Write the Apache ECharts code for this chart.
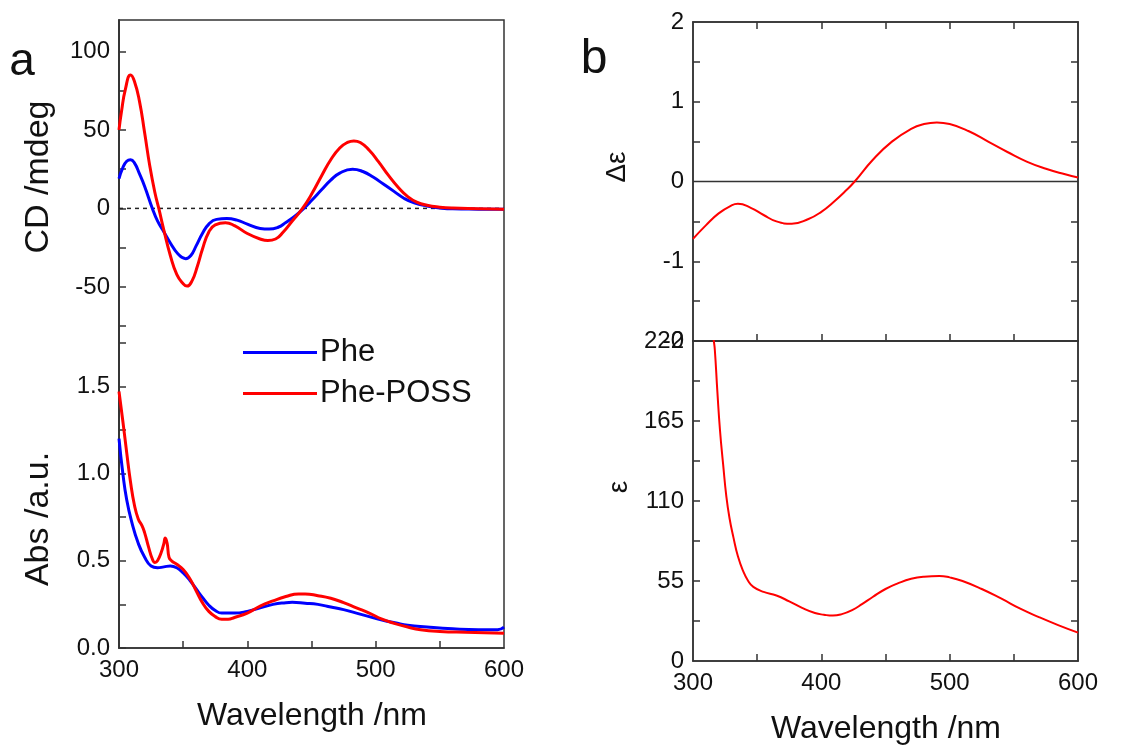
<!DOCTYPE html>
<html>
<head>
<meta charset="utf-8">
<script src="https://cdn.jsdelivr.net/npm/echarts@6/dist/echarts.min.js"></script>
<style>html,body{margin:0;padding:0;background:#fff}#c{width:1145px;height:747px}</style>
</head>
<body>
<div id="c"></div>
<script>
// ---- Panel a: CD spectra (mdeg) ----
const cdPheWl  = [300,303,306,309,312,316,320,326,330,335,340,346,352,356,360,365,370,376,384,392,400,410,417,424,430,437,444,450,458,465,472,482,490,498,506,514,522,530,540,550,560,580,600];
const cdPheVal = [19,26,30,31,29,22,14,0,-8,-15,-22,-29,-32,-30,-24,-16,-10,-7,-6.5,-7.5,-10,-12.8,-13.2,-12,-9,-5,0,5,12,18,22.5,25,23.5,20,15.5,11,6.5,3.5,1.5,0.3,-0.3,-0.5,-0.6];
const cdPossWl  = [300,302,305,309,312,316,320,324,328,331,335,340,345,350,353,357,361,365,370,375,383,390,400,410,416,422,428,435,443,450,458,465,472,478,483,488,495,502,510,518,525,532,540,550,560,580,600];
const cdPossVal = [50,62,76,85,81,68,48,27,10,0,-14,-30,-42,-48,-49.5,-46,-37,-26,-15,-10.5,-9.2,-11,-16,-19.5,-20.5,-19.5,-15,-8,0,9,21,31,38.5,42,43,42,37,30,21,13,7.5,4,2,0.8,0.2,-0.2,-0.6];
const cdZeroWl = [300,600];
const cdZeroVal = [0,0];

// ---- Panel a: absorbance (a.u.) ----
const absPheWl  = [300,303,306,310,315,320,325,330,335,340,345,350,355,360,365,370,375,380,390,400,410,420,430,435,445,455,465,475,485,495,505,515,525,540,560,580,595,600];
const absPheVal = [1.2,1.0,0.85,0.72,0.6,0.52,0.47,0.46,0.465,0.47,0.46,0.43,0.39,0.34,0.29,0.245,0.215,0.2,0.2,0.21,0.23,0.25,0.26,0.262,0.257,0.25,0.235,0.22,0.2,0.18,0.16,0.145,0.13,0.12,0.11,0.105,0.105,0.12];
const absPossWl  = [300,303,306,309,312,315,318,320,323,326,328,330,333,335,336,337.5,339,341,345,350,355,360,365,370,375,380,385,390,400,410,420,430,440,445,455,465,475,485,495,505,515,525,535,550,570,600];
const absPossVal = [1.47,1.3,1.12,0.95,0.82,0.74,0.7,0.66,0.58,0.51,0.49,0.5,0.55,0.6,0.63,0.6,0.52,0.5,0.48,0.45,0.4,0.33,0.26,0.21,0.18,0.165,0.165,0.175,0.2,0.24,0.27,0.295,0.31,0.31,0.3,0.285,0.26,0.23,0.2,0.165,0.14,0.12,0.105,0.095,0.09,0.085];

// ---- Panel b: delta epsilon and epsilon ----
const deWl  = [300,310,320,330,335,345,355,365,377,390,400,410,420,426,440,455,470,480,490,500,515,530,545,560,575,590,600];
const deVal = [-0.72,-0.55,-0.4,-0.3,-0.28,-0.33,-0.42,-0.5,-0.53,-0.47,-0.38,-0.25,-0.1,0,0.27,0.5,0.66,0.72,0.74,0.72,0.63,0.5,0.37,0.25,0.16,0.09,0.05];
const deZeroWl = [300,600];
const deZeroVal = [0,0];
const epsWl  = [314,316,317,319,321,323.5,326,328.5,331.5,335,339,343,347,355,365,375,385,395,402,409,416,424,432,440,450,460,470,480,492,500,510,525,540,555,570,585,600];
const epsVal = [245,222,214,185,159,135,113,98,85,72,62,55,51,47.5,45,41,36.5,33,31.8,31.2,32.2,35,39.3,44,49.5,53.5,56.5,58,58.5,57.5,55,49.5,43,36,30,24.5,19.5];

// ---- tick labels ----
const xTickLabels = [300,400,500,600];
const xTicks = [350,400,450,500,550];
const cdTickLabels = [-50,0,50,100];
const cdTicks = [-75,-50,-25,0,25,50,75,100];
const absTickLabels = [0,0.5,1.0,1.5];
const absTicks = [0,0.25,0.5,0.75,1.0,1.25,1.5,1.75];
const deTickLabels = [-2,-1,0,1,2];
const deTicks = [-1.5,-1,-0.5,0.5,1,1.5];
const epsTickLabels = [0,55,110,165,220];
const epsTicks = [27.5,55,82.5,110,137.5,165,192.5];

const zip = (a,b) => a.map((v,i)=>[v,b[i]]);
const FONT = 'Liberation Sans, Arial, sans-serif';
const AX = '#333';
const BLUE = '#0000ff', RED = '#ff0000';

function xAx(grid, pos, labels, ticks){
  return {type:'value', gridIndex:grid, position:pos, min:300, max:600,
    axisLine:{show:true, onZero:false, lineStyle:{color:AX,width:1.5}},
    axisTick:{show:!!ticks, inside:true, length:7, customValues:ticks||[], lineStyle:{color:AX,width:1.5}},
    axisLabel:{show:!!labels, customValues:labels||[], fontSize:24, color:'#111', fontFamily:FONT, margin:10},
    splitLine:{show:false}};
}
function yAx(grid, pos, min, max, labels, ticks, fmt){
  return {type:'value', gridIndex:grid, position:pos, min:min, max:max,
    axisLine:{show:true, onZero:false, lineStyle:{color:AX,width:1.5}},
    axisTick:{show:!!ticks, inside:true, length:7, customValues:ticks||[], lineStyle:{color:AX,width:1.5}},
    axisLabel:{show:!!labels, customValues:labels||[], fontSize:24, color:'#111', fontFamily:FONT, margin:9, formatter:fmt},
    splitLine:{show:false}};
}
const SM = 0.5;

const chart = echarts.init(document.getElementById('c'), null, {renderer:'canvas'});
chart.setOption({
  animation:false,
  backgroundColor:'#fff',
  grid:[
    {left:119, top:20, width:385, height:628, show:true, borderColor:AX, borderWidth:1.5, backgroundColor:'transparent'},
    {left:693, top:22, width:385, height:319, show:true, borderColor:AX, borderWidth:1.5, backgroundColor:'transparent'},
    {left:693, top:341, width:385, height:320, show:true, borderColor:AX, borderWidth:1.5, backgroundColor:'transparent'}
  ],
  xAxis:[
    xAx(0,'bottom',xTickLabels,xTicks),
    xAx(1,'bottom',null,xTicks),
    xAx(1,'top',null,xTicks),
    xAx(2,'bottom',xTickLabels,xTicks)
  ],
  yAxis:[
    yAx(0,'left',-280,120,cdTickLabels,cdTicks),
    yAx(0,'left',0,3.6,absTickLabels,absTicks,v=>v.toFixed(1)),
    yAx(1,'left',-2,2,deTickLabels,deTicks),
    yAx(1,'right',-2,2,null,deTicks),
    yAx(2,'left',0,220,epsTickLabels,epsTicks),
    yAx(2,'right',0,220,null,epsTicks)
  ],
  legend:{
    orient:'vertical', left:238, top:332, icon:'rect', itemWidth:74, itemHeight:3, itemGap:10,
    data:['Phe','Phe-POSS'],
    textStyle:{fontSize:31, color:'#111', fontFamily:FONT, lineHeight:31, padding:[0,0,0,-2]}
  },
  graphic:[
    {type:'text', x:22, y:62, style:{text:'a', font:'46px '+FONT, fill:'#111', textAlign:'center', textVerticalAlign:'middle'}},
    {type:'text', x:594, y:60, style:{text:'b', font:'48px '+FONT, fill:'#111', textAlign:'center', textVerticalAlign:'middle'}},
    {type:'text', x:39, y:177, rotation:Math.PI/2, style:{text:'CD /mdeg', font:'34px '+FONT, fill:'#111', textAlign:'center', textVerticalAlign:'middle'}},
    {type:'text', x:39, y:519, rotation:Math.PI/2, style:{text:'Abs /a.u.', font:'34px '+FONT, fill:'#111', textAlign:'center', textVerticalAlign:'middle'}},
    {type:'text', x:312, y:716, style:{text:'Wavelength /nm', font:'32px '+FONT, fill:'#111', textAlign:'center', textVerticalAlign:'middle'}},
    {type:'text', x:886, y:729, style:{text:'Wavelength /nm', font:'32px '+FONT, fill:'#111', textAlign:'center', textVerticalAlign:'middle'}},
    {type:'text', x:617, y:167, rotation:Math.PI/2, style:{text:'Δε', font:'28px '+FONT, fill:'#111', textAlign:'center', textVerticalAlign:'middle'}},
    {type:'text', x:619, y:487, rotation:Math.PI/2, style:{text:'ε', font:'28px '+FONT, fill:'#111', textAlign:'center', textVerticalAlign:'middle'}}
  ],
  series:[
    {name:'zeroA', type:'line', xAxisIndex:0, yAxisIndex:0, data:zip(cdZeroWl,cdZeroVal), symbol:'none', silent:true, lineStyle:{color:'#222', width:1.5, type:[4,4]}},
    {name:'Phe', type:'line', xAxisIndex:0, yAxisIndex:0, data:zip(cdPheWl,cdPheVal), symbol:'none', smooth:SM, color:BLUE, lineStyle:{color:BLUE, width:3}},
    {name:'Phe-POSS', type:'line', xAxisIndex:0, yAxisIndex:0, data:zip(cdPossWl,cdPossVal), symbol:'none', smooth:SM, color:RED, lineStyle:{color:RED, width:3}},
    {name:'Phe', type:'line', xAxisIndex:0, yAxisIndex:1, data:zip(absPheWl,absPheVal), symbol:'none', smooth:SM, color:BLUE, lineStyle:{color:BLUE, width:3}},
    {name:'Phe-POSS', type:'line', xAxisIndex:0, yAxisIndex:1, data:zip(absPossWl,absPossVal), symbol:'none', smooth:SM, color:RED, lineStyle:{color:RED, width:3}},
    {name:'zeroB', type:'line', xAxisIndex:1, yAxisIndex:2, data:zip(deZeroWl,deZeroVal), symbol:'none', silent:true, lineStyle:{color:'#333', width:1.5}},
    {name:'de', type:'line', xAxisIndex:1, yAxisIndex:2, data:zip(deWl,deVal), symbol:'none', smooth:SM, lineStyle:{color:RED, width:2}},
    {name:'eps', type:'line', xAxisIndex:3, yAxisIndex:4, data:zip(epsWl,epsVal), symbol:'none', smooth:SM, clip:true, lineStyle:{color:RED, width:2}}
  ]
});
</script>
</body>
</html>
